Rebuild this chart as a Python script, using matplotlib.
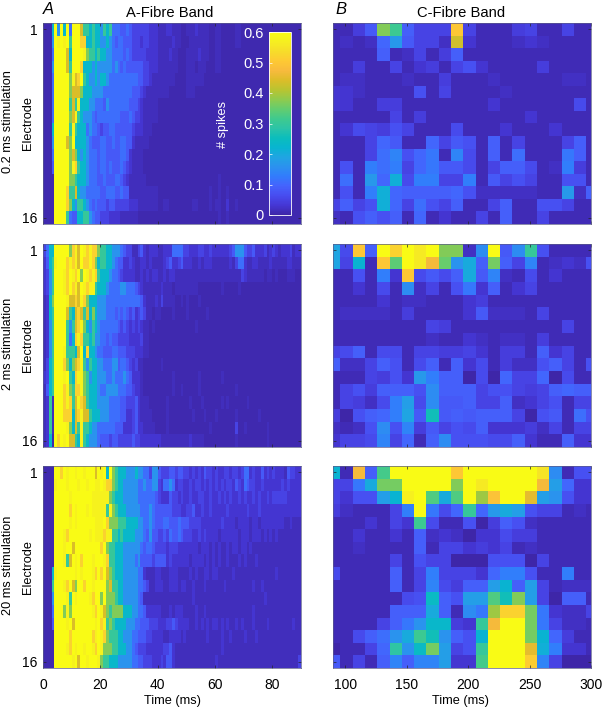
import numpy as np
import matplotlib
matplotlib.use("Agg")
import matplotlib.pyplot as plt
from matplotlib.colors import LinearSegmentedColormap

plt.rcParams['font.family'] = ['Liberation Sans', 'DejaVu Sans']

# parula colours, every 4th entry or so
parula = [(0.2422,0.1504,0.6603),(0.2706,0.2147,0.8364),(0.2813,0.3006,0.9414),(0.2699,0.3892,0.9906),
          (0.1963,0.4847,0.9892),(0.1687,0.5703,0.9359),(0.1248,0.6459,0.8883),(0.0297,0.7082,0.8163),
          (0.0433,0.7411,0.7394),(0.1717,0.7670,0.6554),(0.2470,0.7918,0.5567),(0.3909,0.8029,0.4354),
          (0.5616,0.7942,0.3045),(0.7242,0.7698,0.1910),(0.8634,0.7406,0.1596),(0.9728,0.7298,0.2394),
          (0.9952,0.7893,0.2028),(0.9676,0.8639,0.1643),(0.9628,0.9373,0.1265),(0.9769,0.9839,0.0805)]
cmap = LinearSegmentedColormap.from_list("parula", parula)

# A-fibre rasters, one char per 1 ms bin, char is an index in levels
levels = [0.005, 0.015, 0.03, 0.05, 0.08, 0.11, 0.16, 0.23, 0.30, 0.37, 0.44, 0.52, 0.575, 0.60]
chars = "0123456789abcd"

a_02ms = [
 "0007d6d7d5" "ddda887877" "6878555445" "4333333222" "1112211100" "1112111100" "1100000110" "0000000000" "0000000000",
 "0006dcdcd8" "dddbb77877" "6676545544" "4333233222" "1111121100" "0111111100" "1100000110" "0000000000" "0000000000",
 "0005dddda7" "ddddc98878" "7766555545" "4333332222" "1111211000" "1111211100" "1100000000" "0000000000" "0000000000",
 "0006dddda8" "dddb777676" "6666565454" "4444433222" "1111111000" "1110111000" "1100000000" "0000000000" "0000000000",
 "0005ddddd9" "cabd876676" "7765555555" "5554433211" "1111110000" "1111110000" "0000000000" "0000000000" "0000000000",
 "0005ddddd9" "aaa9777666" "6555555555" "5444321111" "1111000000" "1110000000" "0000000000" "0000000000" "0000000000",
 "0005ddddd8" "a8c7776655" "5465555555" "4443211111" "0000000000" "0000000000" "0000000000" "0000000000" "0000000000",
 "0005ddddd9" "ac87666545" "5555555444" "5433211111" "0000000000" "0000000000" "0000000000" "0000000000" "0000000000",
 "0007ddddd8" "c877756554" "3445544444" "4322211100" "0000000000" "0000000000" "0000000000" "0000000000" "0000000000",
 "0006dddda9" "d777765444" "5544544554" "4211111000" "0000000000" "0000000000" "0000000000" "0000000000" "0000000000",
 "0005ddddd9" "a976765554" "5544444554" "2111100000" "0000000000" "0000000000" "0000000000" "0000000000" "0000000000",
 "0004ddddd9" "cb87765554" "5545444543" "2111100000" "0000000000" "0000000000" "0000000000" "0000000000" "0000000000",
 "0000ddddd9" "9877765554" "4544455432" "1111110000" "0000000000" "0000000000" "0100000000" "0000000000" "0000000000",
 "0000ddddb8" "8a76655555" "4455544544" "1111111111" "0000000000" "0000000010" "0100100000" "0000000000" "0000000000",
 "0000ddddb9" "7688765454" "4434433333" "2221111111" "0011000000" "0011000010" "1100200100" "0000000000" "0000000000",
 "0000dddd85" "4477886544" "3332222111" "1110000000" "0000000000" "0000000000" "0100100000" "0000000000" "0000000000",
]

a_2ms = [
 "3577ddddd9" "bcadcbcbb9" "8877666543" "3113421222" "1122255553" "3222332232" "2222234666" "4334222312" "3212223122",
 "2478cdddbc" "bcadbbcb97" "8877654422" "3211221211" "1123422342" "2211212221" "1111121355" "2112211112" "1111122111",
 "2368dddcbd" "cbd9dcbcb8" "7776554322" "2211212122" "1121221111" "1111111111" "1111111113" "2111111011" "0100011100",
 "2368dddcbd" "bcadcbcc87" "7765555665" "5543211111" "1211101111" "1111000000" "0010000010" "0000000000" "0000000000",
 "1279ddddca" "abacb97776" "6655555555" "5555421112" "1311110010" "1000100000" "0000000000" "0000000000" "0000000000",
 "1278dddda8" "7aba8a7976" "6655545454" "3423431101" "1000010000" "1000000100" "0000000000" "0000000000" "0000000000",
 "1268dddd86" "8abc976876" "5555554343" "2323211010" "0000000000" "0001000000" "0000000000" "0000000000" "0000000000",
 "1268dddd85" "7bcb887866" "5545443333" "2222311000" "0000000000" "0000000000" "0000000000" "0000000000" "0000000000",
 "1268dddc88" "87ad7b7765" "5444554443" "3322211000" "0000000000" "0000000000" "0000000000" "0000000000" "0000000000",
 "1378dddb97" "9abc868776" "6555664554" "3231100000" "0100000000" "0000000000" "0000000000" "0000000000" "0000000000",
 "2378dddcd8" "7bcc986776" "6655655565" "4222100000" "0000010000" "0000100000" "0010000000" "0000000000" "0000000000",
 "1478dddbc9" "8bbc987776" "5566665554" "4322100000" "0000010010" "0000100000" "0000000100" "0000000000" "0000000000",
 "1281dddbcb" "8acba87776" "6665555443" "3342111000" "0001000000" "0100010000" "0010100000" "0100000000" "0000000000",
 "1281dddbbb" "7abcaa8777" "6665555442" "2342111100" "0001000000" "0010001000" "1000000100" "0000010000" "0000000000",
 "1281ddddc9" "7a8c887665" "5555544422" "2342211110" "0001000000" "0000000010" "0000000300" "1000000010" "0000000000",
 "1270dbdcda" "a87c876665" "4443443333" "3433222222" "2111111111" "1211110000" "0000000100" "0000000010" "0000000000",
]

a_20ms = [
 "0000ddbdcd" "dcddcdddad" "cd7d987776" "6676655366" "4333443443" "3232324332" "3223323323" "5523224232" "3222143322",
 "0000cdddcd" "ddcddcddcc" "dcbb987766" "6665565566" "3255652332" "2323323232" "3232332432" "5433223222" "2223232222",
 "0000dddddc" "dddddddccc" "ccc9877766" "6665555554" "3222433232" "2322332232" "2323232232" "3223232232" "3333322222",
 "0000dddddb" "dcdddcdccc" "cc8c987776" "6666555654" "4444433322" "3342232232" "2222322222" "2322232222" "2222222222",
 "0000dddddc" "dcddddddcc" "cdb9998887" "7776655654" "4455444544" "4333322222" "2232222122" "2212212222" "2222112111",
 "0000dddcbd" "ddddddcdcc" "cbcc887877" "7766654644" "3343544543" "3322323222" "2122222212" "2212221212" "1211111111",
 "0000dddcdd" "addddddddd" "bd98877766" "6666545543" "3332333222" "2222122212" "1211212212" "2121111111" "1111111111",
 "0000dddc8a" "dcdbdddcdd" "dcb8877766" "6656444434" "4442322222" "2122221212" "1211211121" "2111211111" "1111111111",
 "0007cddddd" "dcdcdddcbd" "bda9877766" "6665521112" "2111222111" "1212112212" "2111112111" "1111111111" "1211111111",
 "0008dddcbd" "a9ddbddcdd" "dd9a887766" "6665543112" "2211222122" "1121112111" "1112111111" "1112112111" "1111111111",
 "0006ddddc8" "dcddddcbdd" "9d99987766" "6665411111" "1111111111" "1121111111" "1111111111" "1111111211" "1111111111",
 "0005ddd9c9" "dddddddcbd" "ca98999977" "7665542222" "2111212221" "1112112111" "1111111111" "1112111111" "1111111111",
 "0004ddddcd" "adddddddcd" "bc89877776" "6655444333" "2223343222" "2112121212" "2121211212" "1112111121" "1111111211",
 "0000dddddb" "dddddddbcd" "cb98887766" "6554443322" "2211222212" "1111111211" "1121121111" "2111211111" "1111111111",
 "0000ddddcb" "dcddcddcbd" "c999887776" "6543332222" "2233421111" "1111111111" "1121111111" "1111111111" "1111111111",
 "0000dddddd" "cdaddcdddc" "9887776666" "6554433322" "2324421111" "1111111111" "2111111111" "1111111111" "1111111113",
]

# C-fibre rasters, 10 ms bins
c_02ms = [
 [.01,.01,.04,.08,.37,.31,.09,.05,.05,.05,.50,.05,.01,.01,.01,.04,.05,.01,.01,.05,.01,.01],
 [.01,.02,.01,.02,.10,.17,.08,.05,.05,.02,.43,.03,.01,.01,.01,.02,.03,.02,.01,.01,.01,.01],
 [.01,.01,.01,.01,.09,.01,.02,.05,.01,.04,.09,.01,.01,.01,.01,.01,.01,.01,.01,.01,.01,.01],
 [.01,.01,.04,.01,.01,.05,.01,.03,.04,.01,.05,.07,.03,.01,.01,.01,.01,.04,.01,.01,.01,.01],
 [.01,.02,.02,.01,.01,.01,.02,.01,.01,.04,.01,.01,.01,.02,.01,.01,.01,.01,.01,.02,.02,.01],
 [.03,.03,.02,.01,.01,.01,.01,.07,.01,.05,.01,.01,.01,.01,.02,.01,.01,.01,.01,.01,.01,.01],
 [.03,.03,.01,.01,.04,.04,.01,.01,.01,.01,.01,.01,.01,.03,.01,.01,.01,.01,.01,.01,.06,.01],
 [.01,.01,.01,.01,.01,.05,.01,.04,.01,.01,.01,.01,.01,.01,.01,.01,.03,.01,.01,.01,.01,.01],
 [.01,.03,.06,.05,.04,.07,.05,.01,.01,.01,.06,.01,.01,.01,.03,.01,.01,.01,.03,.01,.01,.01],
 [.01,.01,.01,.05,.10,.08,.01,.01,.10,.05,.08,.07,.01,.09,.01,.05,.01,.01,.01,.05,.09,.01],
 [.01,.01,.01,.05,.11,.14,.07,.10,.12,.01,.14,.06,.01,.09,.01,.11,.01,.01,.01,.12,.09,.01],
 [.01,.07,.01,.13,.11,.13,.05,.10,.12,.08,.08,.06,.01,.05,.09,.09,.06,.01,.02,.13,.04,.01],
 [.01,.11,.01,.17,.10,.21,.06,.13,.13,.05,.05,.13,.01,.08,.05,.07,.05,.01,.01,.07,.07,.01],
 [.01,.07,.01,.13,.21,.10,.09,.09,.09,.09,.10,.07,.02,.02,.02,.02,.02,.01,.01,.17,.02,.09],
 [.05,.09,.05,.07,.21,.10,.05,.11,.07,.05,.09,.01,.01,.05,.09,.01,.01,.07,.07,.05,.01,.01],
 [.02,.01,.07,.09,.07,.09,.01,.10,.01,.03,.01,.01,.05,.01,.09,.01,.01,.05,.01,.01,.01,.01],
]

c_2ms = [
 [.19,.06,.50,.09,.60,.52,.60,.56,.60,.37,.37,.02,.15,.60,.08,.15,.30,.07,.01,.01,.01,.01],
 [.19,.05,.22,.01,.50,.34,.60,.56,.47,.35,.16,.20,.09,.36,.09,.05,.14,.01,.02,.03,.02,.07],
 [.01,.01,.07,.01,.13,.03,.50,.06,.08,.06,.09,.20,.08,.14,.02,.01,.06,.01,.03,.01,.01,.01],
 [.01,.01,.03,.01,.06,.01,.15,.02,.05,.01,.07,.12,.03,.09,.01,.03,.05,.01,.01,.01,.01,.01],
 [.01,.01,.01,.01,.03,.01,.02,.02,.01,.01,.01,.03,.04,.01,.01,.01,.01,.01,.01,.01,.01,.01],
 [.01,.02,.02,.02,.02,.01,.04,.01,.01,.01,.01,.03,.08,.02,.02,.02,.01,.05,.01,.01,.01,.01],
 [.01,.01,.01,.01,.01,.01,.01,.01,.05,.04,.01,.01,.01,.01,.01,.01,.01,.01,.01,.05,.01,.01],
 [.01,.01,.01,.01,.01,.01,.01,.01,.02,.01,.01,.03,.02,.01,.02,.02,.01,.04,.01,.01,.01,.01],
 [.05,.06,.09,.01,.06,.06,.01,.05,.05,.04,.04,.05,.03,.01,.04,.04,.01,.09,.03,.05,.01,.01],
 [.09,.02,.02,.05,.09,.07,.01,.06,.09,.01,.09,.03,.06,.01,.04,.02,.02,.07,.09,.05,.01,.07],
 [.01,.01,.01,.05,.04,.07,.03,.17,.13,.09,.09,.00,.06,.00,.10,.05,.05,.10,.00,.06,.01,.01],
 [.01,.05,.07,.04,.09,.09,.09,.07,.15,.09,.09,.09,.05,.07,.07,.05,.04,.05,.09,.10,.09,.09],
 [.01,.05,.04,.02,.06,.13,.18,.06,.15,.08,.08,.09,.05,.05,.09,.02,.03,.05,.07,.01,.05,.05],
 [.04,.00,.07,.09,.10,.13,.19,.08,.26,.08,.09,.08,.09,.09,.09,.05,.00,.07,.08,.01,.11,.07],
 [.02,.01,.02,.07,.15,.07,.14,.04,.08,.05,.07,.06,.09,.03,.03,.03,.04,.02,.05,.01,.05,.05],
 [.03,.05,.05,.06,.14,.05,.10,.01,.09,.15,.07,.07,.07,.06,.06,.09,.03,.01,.01,.09,.03,.03],
]

c_20ms = [
 [.22,.01,.47,.09,.32,.60,.60,.60,.60,.60,.50,.60,.60,.60,.60,.60,.60,.55,.15,.01,.07,.07],
 [.05,.05,.12,.20,.36,.36,.60,.60,.60,.60,.37,.60,.56,.60,.60,.60,.60,.47,.18,.10,.03,.03],
 [.05,.03,.07,.07,.18,.22,.57,.60,.33,.20,.33,.60,.39,.49,.60,.60,.45,.18,.16,.07,.03,.03],
 [.04,.02,.01,.01,.01,.05,.13,.60,.12,.06,.10,.30,.10,.17,.20,.18,.07,.05,.05,.01,.02,.01],
 [.01,.01,.01,.03,.01,.05,.03,.31,.06,.01,.01,.07,.00,.04,.09,.07,.02,.01,.01,.01,.01,.01],
 [.01,.01,.03,.01,.01,.03,.01,.09,.02,.03,.02,.00,.03,.03,.06,.04,.04,.01,.01,.01,.01,.01],
 [.01,.01,.02,.01,.01,.01,.01,.09,.01,.05,.05,.03,.04,.03,.05,.01,.02,.01,.01,.01,.01,.01],
 [.01,.01,.01,.01,.01,.05,.01,.07,.05,.05,.00,.00,.00,.07,.07,.07,.00,.05,.01,.01,.01,.01],
 [.06,.01,.01,.01,.01,.09,.01,.05,.13,.05,.05,.05,.03,.10,.13,.13,.07,.01,.01,.13,.01,.01],
 [.01,.01,.01,.01,.01,.09,.01,.05,.14,.06,.04,.09,.09,.18,.22,.09,.18,.05,.01,.02,.02,.02],
 [.01,.01,.01,.01,.01,.01,.06,.07,.24,.09,.07,.18,.18,.33,.26,.37,.18,.05,.00,.09,.09,.01],
 [.01,.01,.01,.01,.01,.09,.09,.09,.20,.09,.01,.15,.12,.39,.52,.52,.36,.12,.03,.02,.02,.05],
 [.01,.01,.01,.01,.05,.09,.12,.16,.23,.23,.04,.03,.30,.47,.60,.60,.36,.12,.05,.02,.02,.01],
 [.01,.01,.06,.09,.11,.16,.20,.31,.26,.16,.09,.07,.22,.60,.60,.60,.36,.22,.10,.04,.01,.01],
 [.00,.01,.01,.05,.10,.29,.16,.24,.36,.18,.05,.07,.30,.60,.60,.60,.45,.21,.13,.03,.03,.01],
 [.08,.01,.05,.01,.09,.14,.09,.14,.14,.18,.03,.03,.32,.60,.60,.60,.51,.14,.05,.00,.00,.00],
]

stim_labels = ["0.2 ms stimulation", "2 ms stimulation", "20 ms stimulation"]
cbar_ticks = [0, 0.1, 0.2, 0.3, 0.4, 0.5, 0.6]
a_xticks = [0, 20, 40, 60, 80]
c_xticks = [100, 150, 200, 250, 300]


def decode(rows):
    return np.array([[levels[chars.index(c)] for c in r.ljust(90, "0")[:90]] for r in rows])


W, H = 602.0, 709.0
fs = 9.2
tick_fs = 10
fig = plt.figure(figsize=(W / 100, H / 100), dpi=100)


def px_axes(x0, y0, x1, y1):
    return fig.add_axes([x0 / W, 1 - y1 / H, (x1 - x0) / W, (y1 - y0) / H])


tops = [(23, 224), (244, 447), (466, 668)]
a_data = [a_02ms, a_2ms, a_20ms]
c_data = [c_02ms, c_2ms, c_20ms]
y_edges = np.arange(0.5, 17)

for i, (y0, y1) in enumerate(tops):
    ax = px_axes(43, y0, 301, y1)
    mesh = ax.pcolormesh(np.arange(91), y_edges, decode(a_data[i]), cmap=cmap, vmin=0, vmax=0.6)
    ax.set_xlim(0, 90)
    ax.set_ylim(16.5, 0.5)
    ax.set_yticks([1, 16])
    ax.set_xticks(a_xticks)

    bx = px_axes(333, y0, 591, y1)
    bx.pcolormesh(86 + 10 * np.arange(23), y_edges, np.array(c_data[i]), cmap=cmap, vmin=0, vmax=0.6)
    bx.set_xlim(90, 300)
    bx.set_ylim(16.5, 0.5)
    bx.set_yticks([1, 16])
    bx.set_xticks(c_xticks)
    bx.set_yticklabels([])

    for a in (ax, bx):
        a.tick_params(direction='in', length=2, width=0.5, top=True, right=True, labelsize=tick_fs,
                      color='#262626')
        a.tick_params(axis='x', pad=7)
        a.tick_params(axis='y', pad=4)
        for s in a.spines.values():
            s.set_linewidth(0.5)
            s.set_color('#5a5a8a')
        if i < 2:
            a.set_xticklabels([])

    ym = (y0 + y1) / 2.0
    fig.text(8 / W, 1 - (ym - 2) / H, stim_labels[i], rotation=90, ha='center', va='center', fontsize=fs)
    fig.text(28 / W, 1 - ym / H, "Electrode", rotation=90, ha='center', va='center', fontsize=fs)

    if i == 0:
        cax = px_axes(269, 32, 291, 215)
        cb = fig.colorbar(mesh, cax=cax)
        cb.set_ticks(cbar_ticks)
        cb.set_ticklabels(["0", "0.1", "0.2", "0.3", "0.4", "0.5", "0.6"])
        cax.yaxis.set_ticks_position('left')
        cax.tick_params(direction='in', length=2, width=0.5, color='white', labelcolor='white',
                        labelsize=10.5, pad=4)
        cb.outline.set_edgecolor('white')
        cb.outline.set_linewidth(0.6)
        fig.text(223 / W, 1 - 124 / H, "# spikes", rotation=90, color='white', ha='center',
                 va='center', fontsize=fs)

fig.text(172 / W, 1 - 701 / H, "Time (ms)", ha='center', va='center', fontsize=fs)
fig.text(461 / W, 1 - 701 / H, "Time (ms)", ha='center', va='center', fontsize=fs)
fig.text(170 / W, 1 - 13 / H, "A-Fibre Band", ha='center', va='center', fontsize=10.6)
fig.text(461 / W, 1 - 13 / H, "C-Fibre Band", ha='center', va='center', fontsize=10.6)
fig.text(43 / W, 1 - 9 / H, "A", style='italic', ha='left', va='center', fontsize=12)
fig.text(335 / W, 1 - 9 / H, "B", style='italic', ha='left', va='center', fontsize=12)

fig.savefig("out.png", dpi=100)
